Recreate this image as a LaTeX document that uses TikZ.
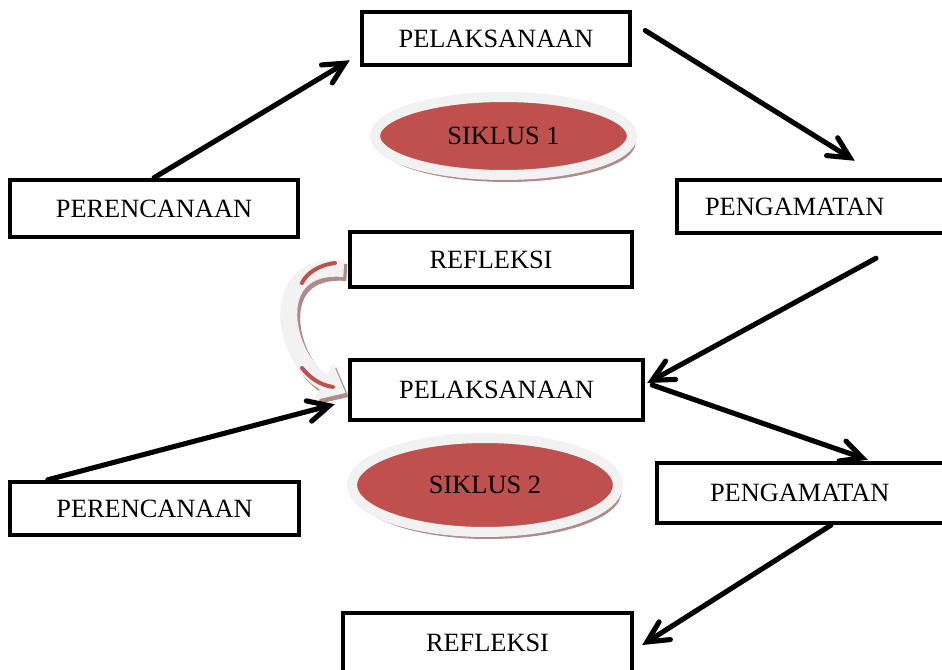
\documentclass[tikz,border=0pt]{standalone}
\usepackage{fontspec}
\setmainfont{Liberation Serif}
\usetikzlibrary{arrows.meta,shapes.geometric,shadows,backgrounds}
\definecolor{siklusred}{HTML}{C0504D}
\definecolor{rimgray}{HTML}{F2F2F2}
\definecolor{shadowbrown}{HTML}{B08B8B}
\tikzset{
  stagebox/.style={draw, line width=2.55pt, inner sep=0pt, font=\fontsize{15}{18}\selectfont},
  flow/.style={line width=2.9pt, line cap=round, -{Straight Barb[length=0.42cm, width=0.42cm, line cap=round]}},
  siklus/.style={ellipse, fill=siklusred, draw=rimgray, line width=0.2cm, inner sep=0pt,
    font=\fontsize{15}{18}\selectfont,
    drop shadow={shadow xshift=0.07cm, shadow yshift=-0.14cm, fill=shadowbrown, opacity=1}},
  backarrow/.style={line width=0.34cm, -{Triangle[width=0.8cm, length=0.5cm]}}
}
\begin{document}
\begin{tikzpicture}[x=0.02cm, y=-0.02cm]
    \useasboundingbox (0,0) rectangle (942,669);
    \clip (0,0) rectangle (942,669);

    % Siklus 1
    \node[stagebox, minimum width=5.36cm, minimum height=1.06cm] (pel1) at (496,38.5) {PELAKSANAAN};
    \node[stagebox, minimum width=5.76cm, minimum height=1.14cm] (per1) at (154,208.5) {PERENCANAAN};
    \node[stagebox, minimum height=1.06cm, text width=4.68cm, inner xsep=0.56cm, align=left] (pen1) at (822,206.5) {PENGAMATAN};
    \node[stagebox, minimum width=5.64cm, minimum height=1.10cm] (ref1) at (491,259.5) {REFLEKSI};
    \node[siklus, minimum width=5.14cm, minimum height=1.56cm] (sik1) at (503.5,136) {SIKLUS 1};

    % Siklus 2
    \node[stagebox, minimum width=5.86cm, minimum height=1.20cm] (pel2) at (496.5,390) {PELAKSANAAN};
    \node[stagebox, minimum width=5.78cm, minimum height=1.06cm] (per2) at (154.5,508.5) {PERENCANAAN};
    \node[stagebox, minimum height=1.20cm, text width=4.08cm, inner xsep=1.06cm, align=left] (pen2) at (812,493) {PENGAMATAN};
    \node[stagebox, minimum width=5.78cm, minimum height=1.20cm] (ref2) at (487.5,643) {REFLEKSI};
    \node[siklus, minimum width=5.32cm, minimum height=1.88cm] (sik2) at (485,485) {SIKLUS 2};

    % Curved arrow from refleksi to the next pelaksanaan
    \coordinate (backS) at ([shift={(-4,9)}]ref1.west);
    \coordinate (backE) at ([shift={(-2,3)}]pel2.west);
    \begin{scope}[on background layer]
      \draw[backarrow, shadowbrown] ([shift={(3,4)}]backS) .. controls (265,266) and (288,366) .. ([shift={(3,4)}]backE);
      \draw[backarrow, rimgray] (backS) .. controls (262,262) and (285,362) .. (backE);
      \draw[siklusred, line width=0.08cm, line cap=round] (335,263) .. controls (318,265) and (306,274) .. (302,283);
      \draw[siklusred, line width=0.08cm, line cap=round] (302,368) .. controls (310,378) and (320,385) .. (333,387);
    \end{scope}

    % Arrows of siklus 1
    \draw[flow] (per1.north) -- ([shift={(-10,-7)}]pel1.south west);
    \draw[flow] ([shift={(13,-8)}]pel1.east) -- ([shift={(180,-17)}]pen1.north west);
    \draw[flow] ([shift={(54,23)}]pen1.south) -- ([shift={(2,-7)}]pel2.east);

    % Arrows of siklus 2
    \draw[flow] ([shift={(40,0)}]per2.north west) -- ([shift={(-13,-18)}]pel2.south west);
    \draw[flow] ([shift={(7,-5)}]pel2.east) -- ([shift={(213,-1)}]pen2.north west);
    \draw[flow] ([shift={(176,0)}]pen2.south west) -- ([shift={(8,2)}]ref2.east);

\end{tikzpicture}
\end{document}
